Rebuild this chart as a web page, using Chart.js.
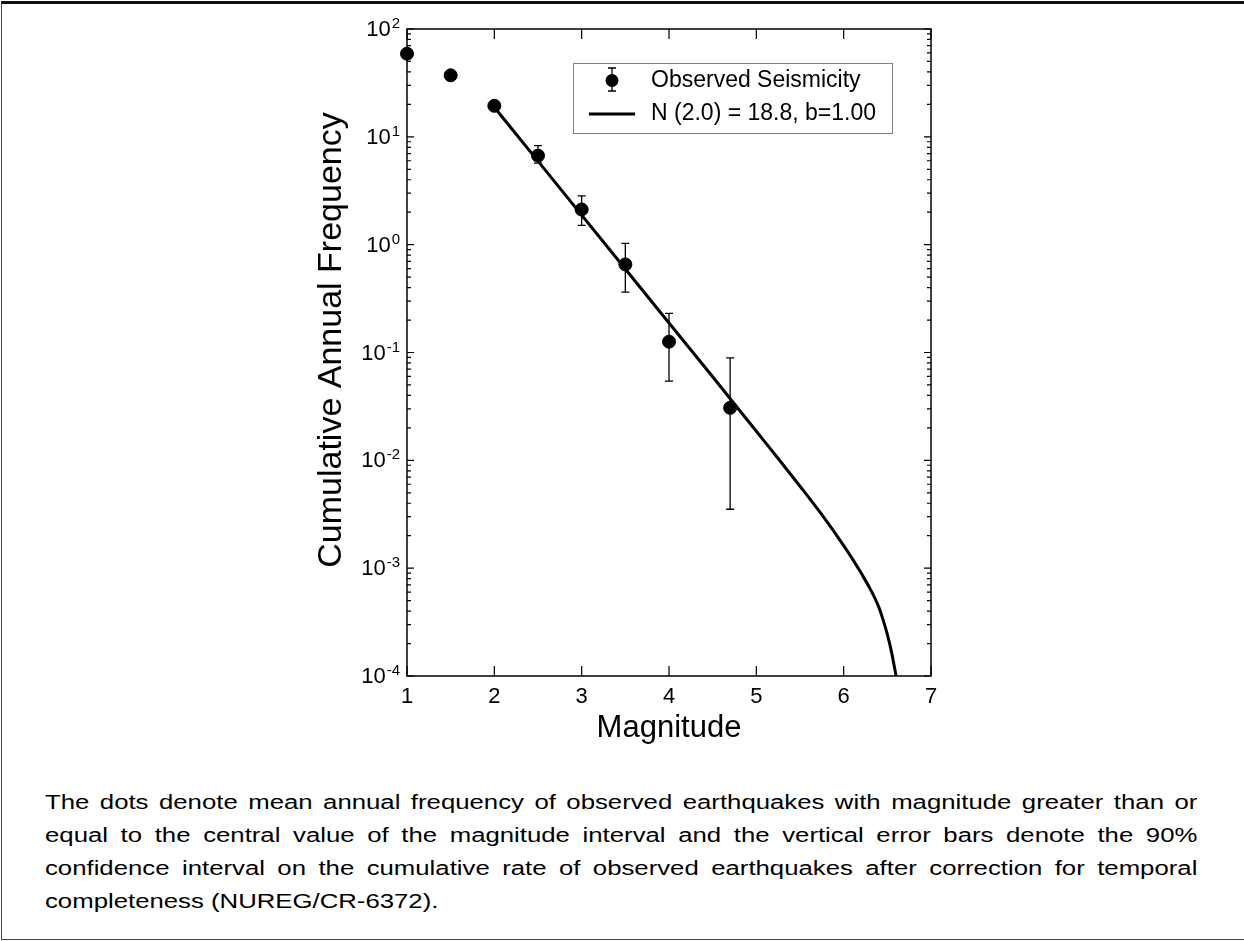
<!DOCTYPE html>
<html>
<head>
<meta charset="utf-8">
<title>Cumulative annual frequency vs magnitude</title>
<script src="https://cdn.jsdelivr.net/npm/chart.js@4.4.1/dist/chart.umd.min.js"></script>
<style>
  html, body { margin: 0; padding: 0; background: #fff; }
  body { width: 1244px; height: 941px; position: relative; overflow: hidden;
         font-family: "Liberation Sans", Arial, sans-serif; color: #000; }
  #frame { position: absolute; left: 1px; top: 1px; width: 1243px; height: 939px; box-sizing: border-box;
           border-top: 3px solid #111; border-left: 1px solid #444; border-bottom: 1px solid #444; }
  #chartBox { position: absolute; left: 0; top: 0; width: 1244px; height: 760px; }
  /* caption is set a little narrow and stretched sideways, as in the source figure */
  #caption { position: absolute; left: 45px; top: 786px; width: 873px; font-size: 19.5px; line-height: 33px;
             transform: scaleX(1.32); transform-origin: 0 0; }
  #caption div { text-align: justify; text-align-last: justify; white-space: nowrap; }
  #caption div.last { text-align-last: left; }
</style>
</head>
<body>
<div id="frame"></div>
<div id="chartBox"><canvas id="grChart"></canvas></div>
<div id="caption">
  <div>The dots denote mean annual frequency of observed earthquakes with magnitude greater than or</div>
  <div>equal to the central value of the magnitude interval and the vertical error bars denote the 90%</div>
  <div>confidence interval on the cumulative rate of observed earthquakes after correction for temporal</div>
  <div class="last">completeness (NUREG/CR-6372).</div>
</div>

<script>
// ============================================================
// Data
// ============================================================

// Observed seismicity (dots) and the 90% confidence bounds
const magnitudes    = [1.0, 1.5, 2.0, 2.5, 3.0, 3.5, 4.0, 4.7];
const observedRates = [59, 37.2, 19.4, 6.7, 2.12, 0.656, 0.126, 0.0307];
const errorLow      = [null, null, null, 5.7, 1.51, 0.363, 0.0543, 0.00352];
const errorHigh     = [null, null, null, 8.3, 2.83, 1.03, 0.231, 0.0893];

// Fitted recurrence curve N (2.0) = 18.8, b = 1.00
const fitMagnitudes = [2.0, 2.5, 3.0, 3.5, 4.0, 4.5, 5.0, 5.25, 5.5, 5.75,
                       6.0, 6.1, 6.2, 6.3, 6.4, 6.45, 6.5, 6.55, 6.6];
const fitRates      = [18.8, 5.95, 1.88, 0.595, 0.188, 0.0595, 0.0186, 0.0104, 0.00575, 0.00313,
                       0.00162, 0.00122, 0.00090, 0.00065, 0.00044, 0.000335, 0.000243, 0.000164, 0.0001];

// Axis ticks and titles
const xTickValues = [1, 2, 3, 4, 5, 6, 7];
const yTickValues = [1e-4, 1e-3, 1e-2, 1e-1, 1, 10, 100];
const xTitle = "Magnitude";
const yTitle = "Cumulative Annual Frequency";

const FONT = "'Liberation Sans', Arial, sans-serif";
Chart.defaults.font.family = FONT;
Chart.defaults.color = "#000";

// Draws error bars, the boxed frame with inward ticks,
// the 10^n tick labels, the y title and the legend box.
const frameTicksPlugin = {
  id: "frameTicks",

  beforeDatasetsDraw: function (chart) {
    const ctx = chart.ctx;
    const xs = chart.scales.x;
    const ys = chart.scales.y;
    ctx.save();
    ctx.strokeStyle = "#000";
    ctx.lineWidth = 1.3;
    magnitudes.forEach(function (m, i) {
      if (errorLow[i] === null) return;
      const x  = xs.getPixelForValue(m);
      const y1 = ys.getPixelForValue(errorHigh[i]);
      const y2 = ys.getPixelForValue(errorLow[i]);
      ctx.beginPath();
      ctx.moveTo(x, y1); ctx.lineTo(x, y2);
      ctx.moveTo(x - 4, y1); ctx.lineTo(x + 4, y1);
      ctx.moveTo(x - 4, y2); ctx.lineTo(x + 4, y2);
      ctx.stroke();
    });
    ctx.restore();
  },

  afterDraw: function (chart) {
    const ctx = chart.ctx;
    const a = chart.chartArea;
    const xs = chart.scales.x;
    const ys = chart.scales.y;
    ctx.save();

    // Box around the plot
    ctx.strokeStyle = "#000";
    ctx.lineWidth = 1.5;
    ctx.strokeRect(a.left, a.top, a.right - a.left, a.bottom - a.top);

    // Inward x ticks, top and bottom
    ctx.lineWidth = 1.2;
    ctx.beginPath();
    xTickValues.forEach(function (v) {
      const x = xs.getPixelForValue(v);
      ctx.moveTo(x, a.bottom); ctx.lineTo(x, a.bottom - 10);
      ctx.moveTo(x, a.top);    ctx.lineTo(x, a.top + 10);
    });

    // Inward y ticks, major and minor, left and right
    yTickValues.forEach(function (v, k) {
      const y = ys.getPixelForValue(v);
      ctx.moveTo(a.left, y);  ctx.lineTo(a.left + 7, y);
      ctx.moveTo(a.right, y); ctx.lineTo(a.right - 7, y);
      if (k === yTickValues.length - 1) return;
      for (let d = 2; d <= 9; d++) {
        const ym = ys.getPixelForValue(v * d);
        ctx.moveTo(a.left, ym);  ctx.lineTo(a.left + 4, ym);
        ctx.moveTo(a.right, ym); ctx.lineTo(a.right - 4, ym);
      }
    });
    ctx.stroke();

    // Tick labels 10^n with a raised exponent
    ctx.fillStyle = "#000";
    ctx.textBaseline = "middle";
    ctx.textAlign = "left";
    yTickValues.forEach(function (v) {
      const y = ys.getPixelForValue(v);
      const expText = String(Math.round(Math.log10(v)));
      ctx.font = "22px " + FONT;
      const wBase = ctx.measureText("10").width;
      ctx.font = "15px " + FONT;
      const wExp = ctx.measureText(expText).width;
      const x0 = a.left - 7 - wExp - 1 - wBase;
      ctx.font = "22px " + FONT;
      ctx.fillText("10", x0, y + 1);
      ctx.font = "15px " + FONT;
      ctx.fillText(expText, x0 + wBase + 1, y - 5);
    });

    // Y axis title, rotated
    ctx.save();
    ctx.translate(331.5, 340);
    ctx.rotate(-Math.PI / 2);
    ctx.textAlign = "center";
    ctx.font = "34px " + FONT;
    ctx.fillText(yTitle, 0, 0);
    ctx.restore();

    // Legend box
    const lx = 573, ly = 63, lw = 319, lh = 70;
    ctx.fillStyle = "#fff";
    ctx.fillRect(lx, ly, lw, lh);
    ctx.strokeStyle = "#808080";
    ctx.lineWidth = 1;
    ctx.strokeRect(lx + 0.5, ly + 0.5, lw, lh);

    // Legend row 1: dot with error bar
    ctx.strokeStyle = "#000";
    ctx.lineWidth = 1.3;
    ctx.beginPath();
    ctx.moveTo(612, 68);  ctx.lineTo(612, 91);
    ctx.moveTo(608, 68);  ctx.lineTo(616, 68);
    ctx.moveTo(608, 91);  ctx.lineTo(616, 91);
    ctx.stroke();
    ctx.fillStyle = "#000";
    ctx.beginPath();
    ctx.arc(612, 80.5, 6.5, 0, Math.PI * 2);
    ctx.fill();

    // Legend row 2: line sample
    ctx.lineWidth = 3;
    ctx.beginPath();
    ctx.moveTo(589, 114); ctx.lineTo(635, 114);
    ctx.stroke();

    ctx.font = "23px " + FONT;
    ctx.textBaseline = "middle";
    ctx.textAlign = "left";
    ctx.fillText(chart.data.datasets[0].label, 651, 81);
    ctx.fillText(chart.data.datasets[1].label, 651, 114);

    ctx.restore();
  }
};

function buildChart() {
  const dots = magnitudes.map(function (m, i) { return { x: m, y: observedRates[i] }; });
  const fit  = fitMagnitudes.map(function (m, i) { return { x: m, y: fitRates[i] }; });

  new Chart(document.getElementById("grChart"), {
    type: "scatter",
    data: {
      datasets: [
        {
          label: "Observed Seismicity",
          data: dots,
          backgroundColor: "#000",
          borderColor: "#000",
          pointRadius: 6.5,
          pointHoverRadius: 6.5,
          showLine: false,
          clip: false
        },
        {
          label: "N (2.0) = 18.8, b=1.00",
          type: "line",
          data: fit,
          borderColor: "#000",
          borderWidth: 3,
          pointRadius: 0,
          fill: false,
          cubicInterpolationMode: "monotone"
        }
      ]
    },
    options: {
      responsive: true,
      maintainAspectRatio: false,
      animation: false,
      layout: { padding: { left: 311, right: 313, top: 29, bottom: 13 } },
      plugins: {
        legend:  { display: false },
        tooltip: { enabled: false }
      },
      scales: {
        x: {
          type: "linear",
          min: 1,
          max: 7,
          grid:   { display: false, drawTicks: false },
          border: { display: false },
          ticks:  { padding: 8, font: { size: 22 }, color: "#000" },
          afterBuildTicks: function (s) { s.ticks = xTickValues.map(function (v) { return { value: v }; }); },
          afterFit: function (s) { s.height = 71; },
          title: { display: true, text: xTitle, font: { size: 31 }, color: "#000", padding: 0 }
        },
        y: {
          type: "logarithmic",
          min: 1e-4,
          max: 100,
          grid:   { display: false, drawTicks: false },
          border: { display: false },
          ticks:  { display: false },
          afterBuildTicks: function (s) { s.ticks = yTickValues.map(function (v) { return { value: v }; }); },
          afterFit: function (s) { s.width = 96; },
          title: { display: false }
        }
      }
    },
    plugins: [frameTicksPlugin]
  });
}

buildChart();
</script>
</body>
</html>
